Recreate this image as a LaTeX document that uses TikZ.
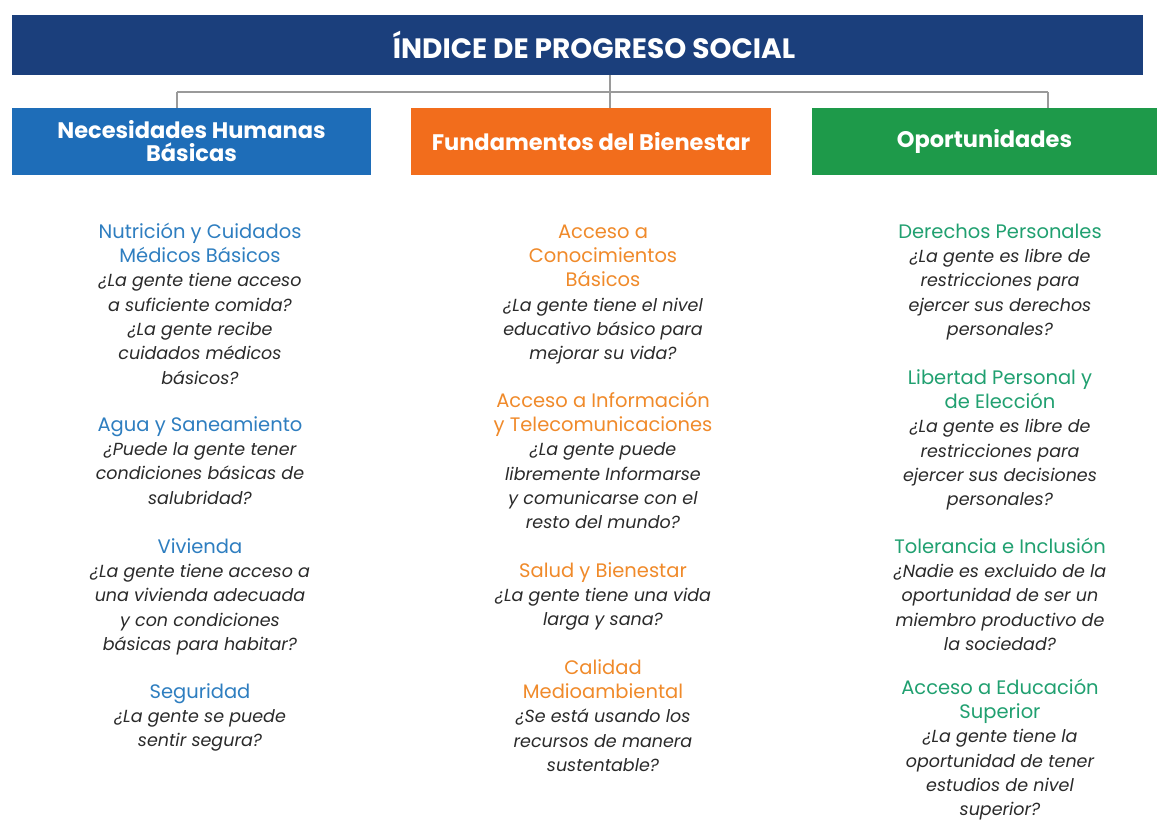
\documentclass[tikz,border=0pt]{standalone}
\usepackage{fontspec}
\setmainfont{Poppins}
\definecolor{navy}{HTML}{1B3F7C}
\definecolor{boxblue}{HTML}{1E6DB8}
\definecolor{boxorange}{HTML}{F26D1C}
\definecolor{boxgreen}{HTML}{1E9A4A}
\definecolor{tblue}{HTML}{2E7EC0}
\definecolor{torange}{HTML}{F08A2A}
\definecolor{tgreen}{HTML}{20A070}
\definecolor{qtext}{HTML}{2A2A2A}
\definecolor{conn}{HTML}{9A9A9A}
\newcommand\ttlB[1]{{\upshape\fontsize{19.5}{24.3}\selectfont\color{tblue}#1}}
\newcommand\ttlO[1]{{\upshape\fontsize{19.5}{24.3}\selectfont\color{torange}#1}}
\newcommand\ttlG[1]{{\upshape\fontsize{19.5}{24.3}\selectfont\color{tgreen}#1}}
\newcommand\fst{\rule{0pt}{18pt}}
\begin{document}
\begin{tikzpicture}[x=1pt,y=-1pt,
  bar/.style={fill=navy,draw=none,minimum width=1131pt,minimum height=60pt,inner sep=0pt},
  hdr/.style={draw=none,minimum height=67pt,inner sep=0pt,text=white,align=center,
    font=\fontsize{22.5}{23}\selectfont\bfseries},
  item/.style={anchor=north,inner sep=0pt,align=center,text=qtext,
    font=\fontsize{17.5}{24.3}\selectfont\itshape},
  link/.style={draw=conn,line width=1.3pt}]
\useasboundingbox (0,0) rectangle (1157,823);
\fill[white] (0,0) rectangle (1157,823);
% title
\node[bar] (title) at (577.5,45) {};
\node[text=white,font=\fontsize{28}{30}\selectfont\bfseries,inner sep=0pt] (titletext) at (594,45) {ÍNDICE DE PROGRESO SOCIAL};
% header boxes
\node[hdr,fill=boxblue,minimum width=359pt] (blue) at (191.5,141.5) {Necesidades Humanas\\Básicas};
\node[hdr,fill=boxorange,minimum width=360pt] (orange) at (591,141.5) {Fundamentos del Bienestar};
\node[hdr,fill=boxgreen,minimum width=345pt] (green) at (984.5,141.5) {Oportunidades};
% connectors
\coordinate (hub) at (610,92);
\coordinate (lj) at (177,92);
\coordinate (rj) at (1048,92);
\draw[link] (hub |- title.south) -- (hub |- orange.north);
\draw[link] (lj) -- (rj);
\draw[link] (lj) -- (lj |- blue.north);
\draw[link] (rj) -- (rj |- green.north);
% left column
\node[item] (l1) at (200,220) {\fst\ttlB{Nutrición y Cuidados}\\\ttlB{Médicos Básicos}\\¿La gente tiene acceso\\a suficiente comida?\\¿La gente recibe\\cuidados médicos\\básicos?};
\node[item] (l2) at (200,413) {\fst\ttlB{Agua y Saneamiento}\\¿Puede la gente tener\\condiciones básicas de\\salubridad?};
\node[item] (l3) at (200,535) {\fst\ttlB{Vivienda}\\¿La gente tiene acceso a\\una vivienda adecuada\\y con condiciones\\básicas para habitar?};
\node[item] (l4) at (200,680) {\fst\ttlB{Seguridad}\\¿La gente se puede\\sentir segura?};
% middle column
\node[item] (m1) at (603,220) {\fst\ttlO{Acceso a}\\\ttlO{Conocimientos}\\\ttlO{Básicos}\\¿La gente tiene el nivel\\educativo básico para\\mejorar su vida?};
\node[item] (m2) at (603,389) {\fst\ttlO{Acceso a Información}\\\ttlO{y Telecomunicaciones}\\¿La gente puede\\libremente Informarse\\y comunicarse con el\\resto del mundo?};
\node[item] (m3) at (603,559) {\fst\ttlO{Salud y Bienestar}\\¿La gente tiene una vida\\larga y sana?};
\node[item] (m4) at (603,656) {\fst\ttlO{Calidad}\\\ttlO{Medioambiental}\\¿Se está usando los\\recursos de manera\\sustentable?};
% right column
\node[item] (r1) at (1000,220) {\fst\ttlG{Derechos Personales}\\¿La gente es libre de\\restricciones para\\ejercer sus derechos\\personales?};
\node[item] (r2) at (1000,366) {\fst\ttlG{Libertad Personal y}\\\ttlG{de Elección}\\¿La gente es libre de\\restricciones para\\ejercer sus decisiones\\personales?};
\node[item] (r3) at (1000,535) {\fst\ttlG{Tolerancia e Inclusión}\\¿Nadie es excluido de la\\oportunidad de ser un\\miembro productivo de\\la sociedad?};
\node[item] (r4) at (1000,676) {\fst\ttlG{Acceso a Educación}\\\ttlG{Superior}\\¿La gente tiene la\\oportunidad de tener\\estudios de nivel\\superior?};
\end{tikzpicture}
\end{document}
